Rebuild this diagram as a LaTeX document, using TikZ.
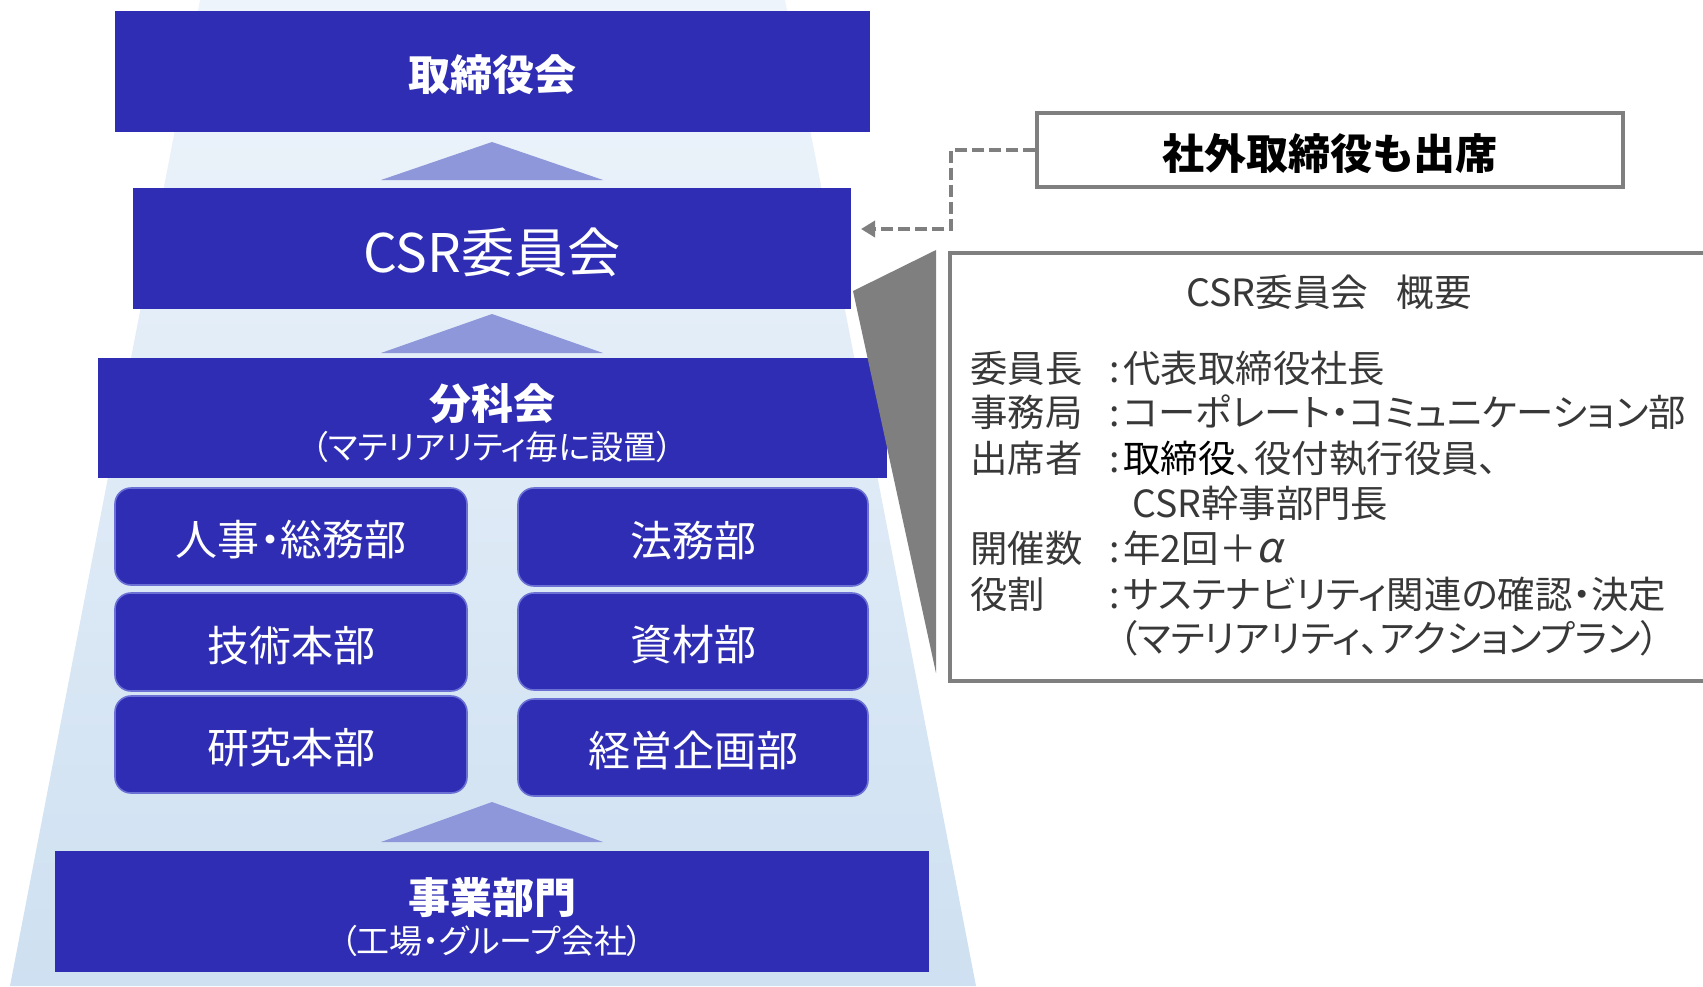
\documentclass[tikz,border=0pt]{standalone}
\usepackage{fontspec}
\setmainfont{Noto Sans CJK JP}[RawFeature=+palt]
\newfontfamily\slantjp{Noto Sans CJK JP}[FakeSlant=0.2]
\newfontfamily\jpfull{Noto Sans CJK JP}
\usetikzlibrary{arrows.meta}
\definecolor{boxblue}{HTML}{2E2DB4}
\definecolor{triblue}{HTML}{8E97D9}
\definecolor{bgtop}{HTML}{EEF4FB}
\definecolor{bgbot}{HTML}{CEE0F1}
\definecolor{edgeblue}{HTML}{6A70D4}
\definecolor{linegray}{HTML}{7F7F7F}
\definecolor{txtdark}{HTML}{383838}
\tikzset{
  fs/.style={font=\fontsize{#1}{#1}\selectfont, text height={0.88*#1pt}, text depth={0.12*#1pt}},
  fsb/.style={font=\fontsize{#1}{#1}\selectfont, text height={0.88*#1pt+3.5pt}, text depth={0.12*#1pt}},
  bigbox/.style={fill=boxblue, text=white, inner sep=0pt, draw=none},
  deptbox/.style={fill=boxblue, text=white, inner sep=0pt, draw=edgeblue, line width=0.8pt,
     rounded corners=8pt, fsb=21},
  graybox/.style={draw=linegray, line width=1.6pt, fill=white, inner sep=0pt},
  lbl/.style={fs=18.7, text=txtdark, inner sep=0pt, anchor=west},
  conn/.style={draw=linegray, line width=2pt, dash pattern=on 6pt off 2.5pt,
     -{Triangle[length=7pt,width=8pt]}},
  uptri/.style={fill=triblue}
}
\begin{document}
\begin{tikzpicture}[x=0.5pt,y=-0.5pt]
\useasboundingbox (0,0) rectangle (1703,986);
\clip (0,0) rectangle (1703,986);
% background trapezoid
\shade[top color=bgtop, bottom color=bgbot] (200,0) -- (785,0) -- (976,986) -- (10,986) -- cycle;
% upward triangles
\fill[uptri] (381,180) -- (492,142) -- (603,180) -- cycle;
\fill[uptri] (381,353) -- (492,314) -- (603,353) -- cycle;
\fill[uptri] (381,842) -- (492,802) -- (603,842) -- cycle;
% main boxes
\node[bigbox, fsb=21, minimum width=377.5pt, minimum height=60.5pt] (board) at (492.5,71.5) {\bfseries 取締役会};
\node[bigbox, fsb=26.6, minimum width=359pt, minimum height=60.5pt] (csr) at (492,248.5) {CSR委員会};
\node[bigbox, minimum width=394.5pt, minimum height=60pt] (bunka) at (492.5,418) {};
\node[fs=21, text=white, inner sep=0pt] (bunkaT) at (492.5,404) {\bfseries 分科会};
\node[fs=16.5, text=white, inner sep=0pt] (bunkaS) at (492.5,447) {（マテリアリティ毎に設置）};
\node[bigbox, minimum width=437pt, minimum height=60.5pt] (jigyo) at (492,911.5) {};
\node[fs=21, text=white, inner sep=0pt] (jigyoT) at (492,898) {\bfseries 事業部門};
\node[fs=16.5, text=white, inner sep=0pt] (jigyoS) at (492,941) {（工場・グループ会社）};
% department boxes
\node[deptbox, minimum width=176pt, minimum height=48.5pt] (hr) at (291,536.5) {人事・総務部};
\node[deptbox, minimum width=175pt, minimum height=49pt] (homu) at (693,537) {法務部};
\node[deptbox, minimum width=176pt, minimum height=49pt] (gijutsu) at (291,642) {技術本部};
\node[deptbox, minimum width=175pt, minimum height=48.5pt] (shizai) at (693,641.5) {資材部};
\node[deptbox, minimum width=176pt, minimum height=48.5pt] (kenkyu) at (291,744.5) {研究本部};
\node[deptbox, minimum width=175pt, minimum height=48.5pt] (keiei) at (693,747.5) {経営企画部};
% gray wedge
\fill[linegray] (853,291) -- (936,250) -- (936,673) -- cycle;
% outside directors box
\node[graybox, fsb=21, minimum width=293pt, minimum height=37pt] (sot) at (1330,150) {\bfseries 社外取締役も出席};
\coordinate (tip) at (861,229);
\coordinate (corner) at (951,229);
\draw[conn] (sot.west) -| (corner) -- (tip);
% summary box
\node[graybox, minimum width=385pt, minimum height=214pt] (summary) at (1335,467) {};
\node[fs=18.8, text=txtdark, inner sep=0pt] (sumT) at (1329,292) {CSR委員会\hspace{0.75em}概要};
\node[lbl] (l1) at (970,368) {委員長};
\node[lbl] (v1) at (1109,368) {:\hspace{0.1em}代表取締役社長};
\node[lbl] (l2) at (970,412) {事務局};
\node[lbl] (v2) at (1109,412) {:\hspace{0.1em}コーポレート・コミュニケーション部};
\node[lbl] (l3) at (970,458) {出席者};
\node[lbl] (v3) at (1109,458) {:\hspace{0.1em}\textcolor{black}{取締役}、役付執行役員、};
\node[lbl] (v3b) at (1132,503) {CSR幹事部門長};
\node[lbl] (l4) at (970,548) {開催数};
\node[lbl] (v4) at (1109,548) {:\hspace{0.1em}年2回{\jpfull ＋}{\slantjp\fontsize{21}{21}\selectfont α}};
\node[lbl] (l5) at (970,594) {役割};
\node[lbl] (v5) at (1109,594) {:\hspace{0.1em}サステナビリティ関連の確認・決定};
\node[lbl] (v5b) at (1118,638) {（マテリアリティ、アクションプラン）};
\end{tikzpicture}
\end{document}
